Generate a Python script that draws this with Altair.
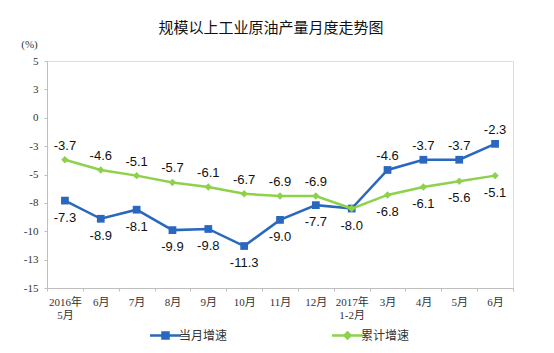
import altair as alt
import pandas as pd

months = ["2016年\n5月", "6月", "7月", "8月", "9月", "10月", "11月", "12月",
          "2017年\n1-2月", "3月", "4月", "5月", "6月"]
# unique keys (6月 appears twice)
month_keys = [f"m{i:02d}" for i in range(len(months))]
series_names = ["当月增速", "累计增速"]
monthly = [-7.3, -8.9, -8.1, -9.9, -9.8, -11.3, -9.0, -7.7, -8.0, -4.6, -3.7, -3.7, -2.3]
cumulative = [-3.7, -4.6, -5.1, -5.7, -6.1, -6.7, -6.9, -6.9, -8.0, -6.8, -6.1, -5.6, -5.1]
y_ticks = [-15, -12.5, -10, -7.5, -5, -2.5, 0, 2.5, 5]

BLUE = "#2A67BF"
GREEN = "#8ED14B"

rows = []
for i, k in enumerate(month_keys):
    a, b = monthly[i], cumulative[i]
    rows.append(dict(key=k, label=months[i], series=series_names[0], value=a,
                     txt=f"{a:.1f}", above=a > b, show=True))
    rows.append(dict(key=k, label=months[i], series=series_names[1], value=b,
                     txt=f"{b:.1f}", above=b > a, show=(a != b)))
df = pd.DataFrame(rows)

label_map = "{" + ",".join(f"'{k}': '{m}'" for k, m in zip(month_keys, months)).replace("\n", "|") + "}"

x_enc = alt.X("key:N", sort=month_keys, title=None,
              scale=alt.Scale(paddingInner=0, paddingOuter=0),
              axis=alt.Axis(labelExpr=f"isValid({label_map}[datum.value]) ? split({label_map}[datum.value], '|') : ''",
                            labelAngle=0, tickBand="extent", tickSize=3,
                            domainColor="#BFBFBF", tickColor="#BFBFBF",
                            labelFont="Liberation Serif, Noto Sans CJK SC",
                            labelFontSize=11, labelColor="#333333", labelPadding=5,
                            labelLineHeight=13))
y_enc = alt.Y("value:Q", title="(%)",
              scale=alt.Scale(domain=[-15, 5], nice=False, zero=False),
              axis=alt.Axis(values=y_ticks, grid=False, tickSize=3,
                            labelExpr="datum.value < 0 ? '-' + round(-datum.value) : '' + round(datum.value)",
                            domainColor="#BFBFBF", tickColor="#BFBFBF",
                            labelFont="Liberation Serif", labelFontSize=11,
                            labelColor="#333333", labelPadding=6,
                            titleAngle=0, titleFont="Liberation Serif",
                            titleFontSize=11, titleFontWeight="normal",
                            titleColor="#333333", titleX=-18, titleY=-12,
                            titleAlign="center"))


def series_layer(name, color, shape, path, lx):
    d = df[df.series == name]
    base = alt.Chart(d)
    line = base.mark_line(strokeWidth=2.5).encode(
        x=x_enc, y=y_enc,
        stroke=alt.Stroke("series:N",
                          scale=alt.Scale(domain=[name], range=[color]),
                          legend=alt.Legend(title=None, orient="none",
                                            legendX=lx, legendY=268,
                                            symbolType=path, symbolSize=100,
                                            symbolStrokeWidth=2.5,
                                            symbolFillColor=color,
                                            labelFont="Noto Sans CJK SC",
                                            labelFontSize=12,
                                            labelColor="#333333",
                                            labelOffset=7)))
    pts = base.mark_point(filled=True, shape=shape, size=60 if shape == "square" else 55,
                          opacity=1, color=color).encode(x=x_enc, y=y_enc)
    txt_style = dict(font="Liberation Sans", fontSize=13, color="#111111")
    up = base.transform_filter("datum.show && datum.above").mark_text(
        dy=-14, **txt_style).encode(x=x_enc, y=y_enc, text="txt:N")
    dn = base.transform_filter("datum.show && !datum.above").mark_text(
        dy=17, **txt_style).encode(x=x_enc, y=y_enc, text="txt:N")
    return [line, pts, up, dn]


sq_path = "M-3.1,0H3.1M-0.6,-0.6H0.6V0.6H-0.6Z"
dm_path = "M-3.1,0H3.1M0,-0.6L0.6,0L0,0.6L-0.6,0Z"

layers = series_layer(series_names[0], BLUE, "square", sq_path, 112) + \
    series_layer(series_names[1], GREEN, "diamond", dm_path, 294)

chart = alt.layer(*layers).resolve_scale(stroke="independent").properties(
    width=466, height=227,
    autosize=alt.AutoSizeParams(type="none"),
    padding={"left": 47, "top": 61, "right": 41, "bottom": 65},
    title=alt.TitleParams("规模以上工业原油产量月度走势图", font="Noto Sans CJK SC",
                          fontSize=15, fontWeight="normal", color="#111111",
                          anchor="middle", dx=-9, offset=2),
).configure_view(stroke=None).configure(background="white")

chart.save("out.html", embed_options={"renderer": "svg", "actions": False})
